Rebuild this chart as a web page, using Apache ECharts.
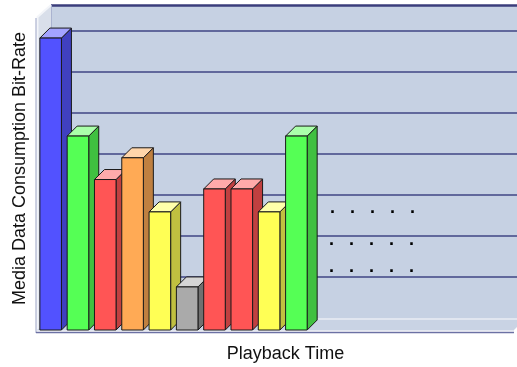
<!DOCTYPE html>
<html>
<head>
<meta charset="utf-8">
<script src="https://cdn.jsdelivr.net/npm/echarts@6/dist/echarts.min.js"></script>
<style>
  html, body { margin: 0; padding: 0; background: #ffffff; }
  #chart { width: 517px; height: 367px; }
</style>
</head>
<body>
<div id="chart"></div>
<script>
// Playback segments and the bit-rate consumed in each one
const segments = ['T1', 'T2', 'T3', 'T4', 'T5', 'T6', 'T7', 'T8', 'T9', 'T10'];
const bitRates = [71.2, 47.3, 36.7, 42, 28.8, 10.5, 34.4, 34.4, 28.8, 47.3];
const barTones = ['blue', 'green', 'red', 'orange', 'yellow', 'gray', 'red', 'red', 'yellow', 'green'];

const yMax = 76.34;
const yStep = 10;
// horizontal extent in segment slots (the axis runs on past the last segment)
const xMin = -0.5;
const xMax = 17.08;

// front / side / top shades for each tone
const palette = {
  blue:   { front: '#5252ff', side: '#4040c0', top: '#a3a3ff' },
  green:  { front: '#55ff55', side: '#40c040', top: '#aaffaa' },
  red:    { front: '#ff5555', side: '#c04040', top: '#ffaaaa' },
  orange: { front: '#ffaa55', side: '#c08040', top: '#ffd5aa' },
  yellow: { front: '#ffff55', side: '#c0c040', top: '#ffffaa' },
  gray:   { front: '#aaaaaa', side: '#707070', top: '#d5d5d5' }
};

const DEPTH = 10;          // bar depth offset in px
const WALL_DX = 14, WALL_DY = 12;
const left = 37, frontBottom = 330, plotH = 313;

const chart = echarts.init(document.getElementById('chart'), null, { renderer: 'canvas' });

function renderBar(params, api) {
  const idx = api.value(0);
  const v = api.value(1);
  const base = api.coord([idx, 0]);
  const top = api.coord([idx, v]);
  const w = api.size([1, 0])[0] * 0.79;
  const x0 = base[0] - w / 2, x1 = base[0] + w / 2;
  const yT = top[1], yB = base[1];
  const c = palette[barTones[params.dataIndex]];
  const stroke = { stroke: '#1a1a1a', lineWidth: 1 };
  return {
    type: 'group',
    children: [
      { type: 'polygon', shape: { points: [[x1, yT], [x1 + DEPTH, yT - DEPTH], [x1 + DEPTH, yB - DEPTH], [x1, yB]] },
        style: Object.assign({ fill: c.side }, stroke) },
      { type: 'polygon', shape: { points: [[x0, yT], [x0 + DEPTH, yT - DEPTH], [x1 + DEPTH, yT - DEPTH], [x1, yT]] },
        style: Object.assign({ fill: c.top }, stroke) },
      { type: 'rect', shape: { x: x0, y: yT, width: w, height: yB - yT },
        style: Object.assign({ fill: c.front }, stroke) }
    ]
  };
}

const dotLine = '.   .   .   .   .';
const titleFont = '18px "Liberation Sans", Arial, sans-serif';
const dotFont = 'bold 18px "Liberation Sans", Arial, sans-serif';

chart.setOption({
  animation: false,
  backgroundColor: '#ffffff',
  grid: [
    // front plane: bars stand on it
    { left: left, right: 0, top: frontBottom - plotH, height: plotH, show: false },
    // back wall with the horizontal rules
    { left: left + WALL_DX, right: 0, top: frontBottom - plotH - WALL_DY, height: plotH,
      show: true, backgroundColor: '#c6d1e3', borderWidth: 0 }
  ],
  xAxis: [
    { type: 'value', gridIndex: 0, min: xMin, max: xMax, show: false, splitLine: { show: false } },
    { type: 'value', gridIndex: 1, min: xMin, max: xMax, show: false, splitLine: { show: false } }
  ],
  yAxis: [
    { type: 'value', gridIndex: 0, min: 0, max: yMax, interval: yStep, show: false, splitLine: { show: false } },
    { type: 'value', gridIndex: 1, min: 0, max: yMax, interval: yStep,
      axisLine: { show: false }, axisTick: { show: false }, axisLabel: { show: false },
      splitLine: { show: true, showMinLine: false, showMaxLine: false,
        lineStyle: { color: '#3f4484', width: 1.5 } } }
  ],
  graphic: [
    // left side wall
    { type: 'polygon', z: 1, shape: { points: [[37, 17], [51, 5], [51, 318], [37, 330]] },
      style: { fill: '#d9dfea', stroke: null } },
    { type: 'polyline', z: 1, shape: { points: [[37.5, 330], [37.5, 17], [51, 5]] },
      style: { stroke: '#f3f5f9', lineWidth: 2, fill: null } },
    { type: 'line', z: 1, shape: { x1: 36, y1: 18, x2: 36, y2: 333 },
      style: { stroke: '#9aa2c4', lineWidth: 1 } },
    // floor
    { type: 'polygon', z: 1, shape: { points: [[37, 330], [51, 318], [528, 318], [514, 330]] },
      style: { fill: '#c9d3e4', stroke: null } },
    { type: 'line', z: 1, shape: { x1: 51, y1: 319, x2: 517, y2: 319 },
      style: { stroke: '#e9edf4', lineWidth: 1.5 } },
    { type: 'line', z: 1, shape: { x1: 37, y1: 330.5, x2: 514, y2: 330.5 },
      style: { stroke: '#e4e8f1', lineWidth: 1 } },
    { type: 'line', z: 1, shape: { x1: 36, y1: 332.5, x2: 514, y2: 332.5 },
      style: { stroke: '#6c71a4', lineWidth: 1.5 } },
    { type: 'line', z: 1, shape: { x1: 514, y1: 330, x2: 517, y2: 327 },
      style: { stroke: '#e4e8f1', lineWidth: 1 } },
    // top edge of the back wall
    { type: 'line', z: 1, shape: { x1: 51, y1: 5.5, x2: 517, y2: 5.5 },
      style: { stroke: '#3a3d7b', lineWidth: 2.5 } },
    { type: 'line', z: 1, shape: { x1: 51.5, y1: 5, x2: 51.5, y2: 318 },
      style: { stroke: '#aab3d0', lineWidth: 1 } },
    // continuation marks
    { type: 'text', z: 5, left: 330, top: 199, style: { text: dotLine, font: dotFont, fill: '#000' } },
    { type: 'text', z: 5, left: 329, top: 231, style: { text: dotLine, font: dotFont, fill: '#000' } },
    { type: 'text', z: 5, left: 329, top: 258, style: { text: dotLine, font: dotFont, fill: '#000' } },
    // axis titles
    { type: 'text', z: 5, x: 20, y: 168.5, rotation: Math.PI / 2,
      style: { text: 'Media Data Consumption Bit-Rate', font: titleFont,
        fill: '#111', align: 'center', verticalAlign: 'middle' } },
    { type: 'text', z: 5, x: 285.5, y: 354,
      style: { text: 'Playback Time', font: titleFont,
        fill: '#111', align: 'center', verticalAlign: 'middle' } }
  ],
  series: [
    {
      type: 'custom',
      xAxisIndex: 0,
      yAxisIndex: 0,
      z: 3,
      renderItem: renderBar,
      data: bitRates.map((v, i) => [i, v, segments[i]]),
      encode: { x: 0, y: 1 }
    }
  ]
});
</script>
</body>
</html>
